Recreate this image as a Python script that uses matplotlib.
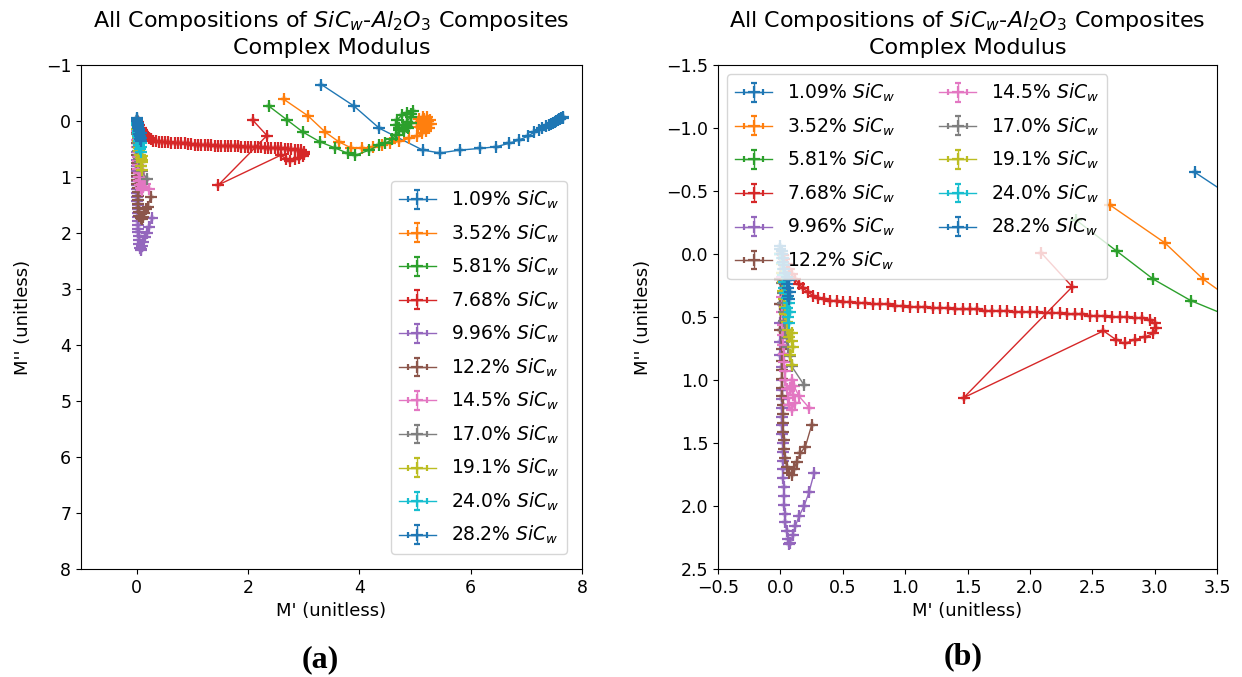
import matplotlib
matplotlib.use("Agg")
import matplotlib.pyplot as plt

# ---------------- data ----------------
labels = ["1.09%", "3.52%", "5.81%", "7.68%", "9.96%", "12.2%",
          "14.5%", "17.0%", "19.1%", "24.0%", "28.2%"]

m1_x = [3.32, 3.90, 4.36, 5.14, 5.45, 5.80, 6.16, 6.46, 6.68, 6.87, 7.03, 7.14, 7.22,
        7.29, 7.35, 7.40, 7.44, 7.48, 7.51, 7.54, 7.57, 7.59, 7.61, 7.63, 7.65, 7.66]
m1_y = [-0.65, -0.27, 0.13, 0.52, 0.57, 0.52, 0.49, 0.46, 0.40, 0.34, 0.27, 0.20, 0.16,
        0.12, 0.09, 0.07, 0.05, 0.03, 0.01, 0.00, -0.02, -0.03, -0.04, -0.05, -0.06, -0.07]

m2_x = [2.64, 3.08, 3.39, 3.63, 3.85, 4.05, 4.24, 4.40, 4.55, 4.72, 4.90, 5.04, 5.12,
        5.20, 5.25, 5.28, 5.27, 5.22, 5.15, 5.08, 5.03, 5.05, 5.12, 5.20, 5.26, 5.24,
        5.16, 5.10, 5.14, 5.20, 5.22]
m2_y = [-0.39, -0.09, 0.20, 0.37, 0.48, 0.49, 0.46, 0.43, 0.40, 0.36, 0.31, 0.27, 0.22,
        0.18, 0.12, 0.05, -0.02, -0.07, -0.08, -0.04, 0.03, 0.10, 0.15, 0.12, 0.06, 0.00,
        -0.04, 0.02, 0.08, 0.12, 0.06]

m3_x = [2.37, 2.70, 2.99, 3.29, 3.56, 3.80, 3.93, 4.18, 4.35, 4.47, 4.58, 4.66, 4.72,
        4.78, 4.85, 4.92, 4.96, 4.93, 4.85, 4.76, 4.68, 4.66, 4.72, 4.80, 4.88, 4.92,
        4.86, 4.78, 4.72]
m3_y = [-0.27, -0.02, 0.20, 0.37, 0.48, 0.58, 0.61, 0.52, 0.43, 0.40, 0.33, 0.25, 0.16,
        0.08, 0.02, -0.08, -0.17, -0.12, -0.14, -0.10, -0.02, 0.08, 0.14, 0.18, 0.12, 0.04,
        0.10, 0.16, 0.12]

m4_x = [2.09, 2.34, 1.47, 2.59, 2.69, 2.76, 2.84, 2.92, 2.99, 3.01, 3.00, 2.96,
        2.90, 2.84, 2.78, 2.72, 2.66, 2.60, 2.54, 2.48, 2.42, 2.36,
        2.30, 2.24, 2.18, 2.12, 2.06, 2.00, 1.94, 1.88, 1.82, 1.76,
        1.70, 1.64, 1.58, 1.52, 1.46, 1.40, 1.34, 1.28, 1.22, 1.16,
        1.10, 1.04, 0.98, 0.92, 0.86, 0.80, 0.74, 0.68, 0.62, 0.56,
        0.50, 0.45, 0.40, 0.35, 0.30, 0.26, 0.22, 0.18, 0.15, 0.12,
        0.09, 0.07, 0.05, 0.03, 0.02]
m4_y = [-0.01, 0.26, 1.14, 0.61, 0.68, 0.71, 0.68, 0.66, 0.63, 0.59, 0.55, 0.52,
        0.51, 0.51, 0.50, 0.50, 0.50, 0.49, 0.49, 0.49, 0.48, 0.48,
        0.48, 0.47, 0.47, 0.47, 0.46, 0.46, 0.46, 0.46, 0.45, 0.45,
        0.45, 0.45, 0.44, 0.44, 0.44, 0.44, 0.43, 0.43, 0.43, 0.42,
        0.42, 0.42, 0.41, 0.41, 0.40, 0.40, 0.40, 0.39, 0.39, 0.38,
        0.38, 0.37, 0.37, 0.36, 0.35, 0.33, 0.30, 0.27, 0.24, 0.20,
        0.16, 0.12, 0.08, 0.04, 0.01]

m5_x = [0.27, 0.23, 0.19, 0.15, 0.12, 0.10, 0.08, 0.07, 0.06, 0.05, 0.04, 0.04, 0.03,
        0.03, 0.03, 0.02, 0.02, 0.02, 0.02, 0.02, 0.01, 0.01, 0.01, 0.01, 0.01, 0.01,
        0.01, 0.01, 0.00, 0.00, 0.00, 0.00, 0.00, 0.00]
m5_y = [1.74, 1.89, 2.00, 2.08, 2.16, 2.23, 2.29, 2.30, 2.26, 2.20, 2.13, 2.06, 1.99,
        1.92, 1.85, 1.78, 1.71, 1.64, 1.57, 1.50, 1.43, 1.36, 1.29, 1.22, 1.15, 1.08,
        1.00, 0.90, 0.80, 0.70, 0.55, 0.40, 0.20, 0.00]

m6_x = [0.25, 0.20, 0.16, 0.13, 0.11, 0.09, 0.07, 0.05, 0.04, 0.03, 0.03, 0.02, 0.02,
        0.02, 0.02, 0.01, 0.01, 0.01, 0.01, 0.01, 0.01, 0.00, 0.00, 0.00, 0.00]
m6_y = [1.36, 1.53, 1.58, 1.65, 1.71, 1.75, 1.74, 1.69, 1.62, 1.55, 1.48, 1.41, 1.34,
        1.27, 1.20, 1.13, 1.06, 0.99, 0.92, 0.85, 0.75, 0.60, 0.40, 0.20, 0.00]

m7_x = [0.23, 0.15, 0.11, 0.09, 0.08, 0.10, 0.12, 0.09, 0.07, 0.06, 0.05, 0.04, 0.04,
        0.03, 0.03, 0.02, 0.02, 0.02, 0.01, 0.01, 0.01, 0.00]
m7_y = [1.22, 1.13, 1.05, 1.00, 1.06, 1.12, 1.18, 1.24, 1.20, 1.14, 1.07, 1.00, 0.93,
        0.86, 0.79, 0.72, 0.64, 0.56, 0.46, 0.34, 0.18, 0.00]

m8_x = [0.19, 0.09, 0.08, 0.06, 0.05, 0.04, 0.03, 0.03, 0.02, 0.02, 0.01, 0.01, 0.01, 0.00]
m8_y = [1.04, 0.89, 0.81, 0.74, 0.67, 0.60, 0.53, 0.46, 0.39, 0.31, 0.23, 0.15, 0.07, 0.00]

m9_x = [0.09, 0.08, 0.10, 0.09, 0.07, 0.09, 0.06, 0.05, 0.04, 0.04, 0.03, 0.02, 0.02,
        0.01, 0.01, 0.00]
m9_y = [0.88, 0.80, 0.74, 0.69, 0.66, 0.63, 0.60, 0.54, 0.48, 0.42, 0.36, 0.29, 0.22,
        0.15, 0.08, 0.00]

m10_x = [0.07, 0.06, 0.08, 0.05, 0.07, 0.05, 0.04, 0.03, 0.03, 0.02, 0.02, 0.01, 0.01, 0.00]
m10_y = [0.55, 0.50, 0.46, 0.43, 0.39, 0.35, 0.31, 0.27, 0.22, 0.17, 0.12, 0.07, 0.03, 0.00]

m11_x = [0.07, 0.06, 0.08, 0.06, 0.05, 0.07, 0.05, 0.04, 0.03, 0.03, 0.02, 0.02, 0.01,
         0.01, 0.00, 0.00]
m11_y = [0.36, 0.33, 0.30, 0.27, 0.24, 0.21, 0.18, 0.15, 0.12, 0.09, 0.06, 0.03, 0.00,
         -0.02, -0.04, -0.06]

xs = [m1_x, m2_x, m3_x, m4_x, m5_x, m6_x, m7_x, m8_x, m9_x, m10_x, m11_x]
ys = [m1_y, m2_y, m3_y, m4_y, m5_y, m6_y, m7_y, m8_y, m9_y, m10_y, m11_y]
m_err = 0.0

# ---------------- figure ----------------
W, H = 1242, 677
fig = plt.figure(figsize=(W / 100, H / 100), dpi=100)
ax1 = fig.add_axes([81 / W, 1 - 569 / H, 501 / W, 504 / H])
ax2 = fig.add_axes([718 / W, 1 - 569 / H, 499 / W, 504 / H])

title = "All Compositions of $SiC_w$-$Al_2O_3$ Composites\nComplex Modulus"

for ax in (ax1, ax2):
    for i, (x, y) in enumerate(zip(xs, ys)):
        ax.errorbar(x, y, xerr=m_err, yerr=m_err, marker='+', ms=9, mew=1.6,
                    capsize=2.5, lw=1, elinewidth=1, color=f"C{i % 10}",
                    label=f"{labels[i]} $SiC_w$")
    ax.set_title(title, fontsize=16, pad=8, linespacing=1.3)
    ax.set_xlabel("M' (unitless)", fontsize=13)
    ax.set_ylabel("M'' (unitless)", fontsize=13, labelpad=10)
    ax.tick_params(labelsize=12.5)

ax1.set_xlim(-1, 8)
ax1.set_ylim(8, -1)
ax1.set_xticks([0, 2, 4, 6, 8])
ax1.set_yticks(range(-1, 9))
ax1.legend(loc='lower right', fontsize=13.5, labelspacing=0.6, borderaxespad=0.8)

ax2.set_xlim(-0.5, 3.5)
ax2.set_ylim(2.5, -1.5)
ax2.set_xticks([-0.5, 0.0, 0.5, 1.0, 1.5, 2.0, 2.5, 3.0, 3.5])
ax2.set_yticks([-1.5, -1.0, -0.5, 0.0, 0.5, 1.0, 1.5, 2.0, 2.5])
ax2.legend(loc='upper left', ncol=2, fontsize=13.5, labelspacing=0.6,
           columnspacing=2.3)

fig.text(320 / W, 1 - 660 / H, "(a)", fontsize=23, fontweight='bold',
         family='Liberation Serif', ha='center', va='center')
fig.text(963 / W, 1 - 657 / H, "(b)", fontsize=23, fontweight='bold',
         family='Liberation Serif', ha='center', va='center')

fig.savefig("out.png", dpi=100)
